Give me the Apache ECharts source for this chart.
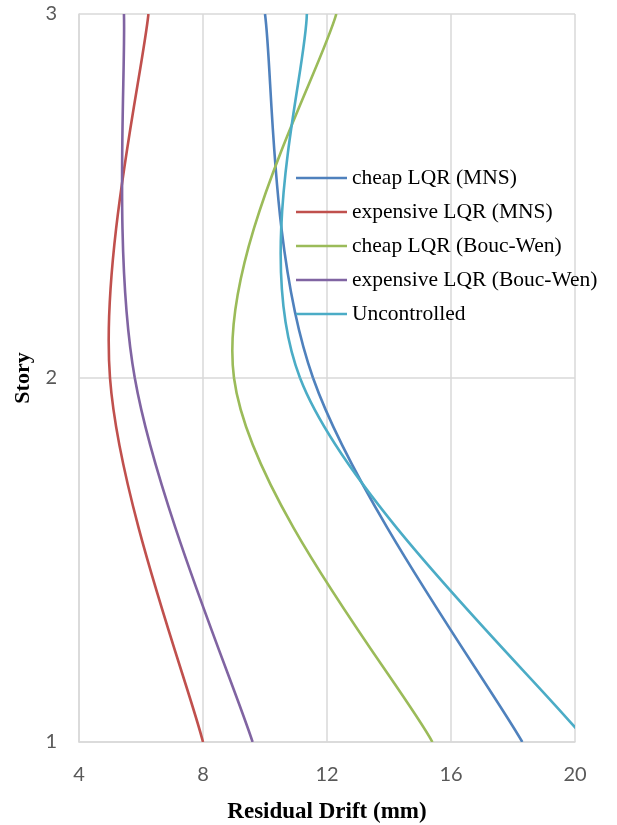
<!DOCTYPE html>
<html>
<head>
<meta charset="utf-8">
<script src="https://cdn.jsdelivr.net/npm/echarts@6/dist/echarts.min.js"></script>
<style>
html,body{margin:0;padding:0;background:#ffffff;}
#chart{width:617px;height:825px;}
</style>
</head>
<body>
<div id="chart"></div>
<script>
// ---- data ----
const stories = [1, 2, 3];
const seriesNames = ['cheap LQR (MNS)', 'expensive LQR (MNS)', 'cheap LQR (Bouc-Wen)', 'expensive LQR (Bouc-Wen)', 'Uncontrolled'];
const cheapMNS = [18.3, 11.55, 10.0];
const expensiveMNS = [8.0, 5.0, 6.24];
const cheapBW = [15.4, 9.0, 12.3];
const expensiveBW = [9.6, 5.8, 5.45];
const uncontrolled = [20.4, 11.13, 11.35];
const xTicks = [4, 8, 12, 16, 20];
const yTicks = [1, 2, 3];

// ---- styles ----
const colors = ['#4F81BD', '#C0504D', '#9BBB59', '#8064A2', '#4BACC6'];
const allValues = [cheapMNS, expensiveMNS, cheapBW, expensiveBW, uncontrolled];

// Smoothed (Catmull-Rom style) segment between consecutive data points,
// positioned through the chart's own coordinate system.
function smoothRenderer(values, color) {
  return function (params, api) {
    const i = params.dataIndex;
    const n = values.length;
    if (i >= n - 1) return { type: 'group', children: [] };
    const p = function (k) {
      const kk = Math.max(0, Math.min(n - 1, k));
      return api.coord([values[kk], stories[kk]]);
    };
    const p0 = p(i - 1), p1 = p(i), p2 = p(i + 1), p3 = p(i + 2);
    return {
      type: 'bezierCurve',
      shape: {
        x1: p1[0], y1: p1[1], x2: p2[0], y2: p2[1],
        cpx1: p1[0] + (p2[0] - p0[0]) / 6, cpy1: p1[1] + (p2[1] - p0[1]) / 6,
        cpx2: p2[0] - (p3[0] - p1[0]) / 6, cpy2: p2[1] - (p3[1] - p1[1]) / 6
      },
      style: { stroke: color, lineWidth: 2.6, fill: 'none' }
    };
  };
}

const chart = echarts.init(document.getElementById('chart'), null, { renderer: 'canvas' });

const gridColor = '#d9d9d9';
const option = {
  animation: false,
  backgroundColor: '#ffffff',
  grid: { left: 79, right: 42, top: 14, bottom: 83, containLabel: false, outerBoundsMode: 'none' },
  legend: {
    orient: 'vertical',
    left: 296,
    top: 167,
    padding: 0,
    itemWidth: 51,
    itemHeight: 2.5,
    itemGap: 12,
    textStyle: { fontFamily: 'Liberation Serif', fontSize: 21.5, lineHeight: 21, color: '#000000' },
    data: seriesNames.map(function (n, i) { return { name: n, icon: 'rect', itemStyle: { color: colors[i] } }; })
  },
  xAxis: {
    type: 'value',
    min: xTicks[0],
    max: xTicks[xTicks.length - 1],
    interval: 4,
    name: 'Residual Drift (mm)',
    nameLocation: 'middle',
    nameGap: 59,
    nameTextStyle: { fontFamily: 'Liberation Serif', fontWeight: 'bold', fontSize: 23, color: '#000000' },
    axisLine: { show: true, lineStyle: { color: gridColor, width: 1.5 } },
    axisTick: { show: false },
    axisLabel: { fontFamily: 'Lato', fontSize: 20, color: '#595959', margin: 23 },
    splitLine: { show: true, lineStyle: { color: gridColor, width: 1.5 } }
  },
  yAxis: {
    type: 'value',
    min: yTicks[0],
    max: yTicks[yTicks.length - 1],
    interval: 1,
    name: 'Story',
    nameLocation: 'middle',
    nameRotate: 90,
    nameGap: 42,
    nameTextStyle: { fontFamily: 'Liberation Serif', fontWeight: 'bold', fontSize: 22, color: '#000000' },
    axisLine: { show: true, lineStyle: { color: gridColor, width: 1.5 } },
    axisTick: { show: false },
    axisLabel: { fontFamily: 'Lato', fontSize: 20, color: '#595959', margin: 22 },
    splitLine: { show: true, lineStyle: { color: gridColor, width: 1.5 } }
  },
  series: allValues.map(function (vals, i) {
    return {
      type: 'custom',
      name: seriesNames[i],
      clip: true,
      itemStyle: { color: colors[i] },
      encode: { x: 0, y: 1 },
      renderItem: smoothRenderer(vals, colors[i]),
      data: vals.map(function (v, k) { return [v, stories[k]]; })
    };
  })
};
chart.setOption(option);
</script>
</body>
</html>
